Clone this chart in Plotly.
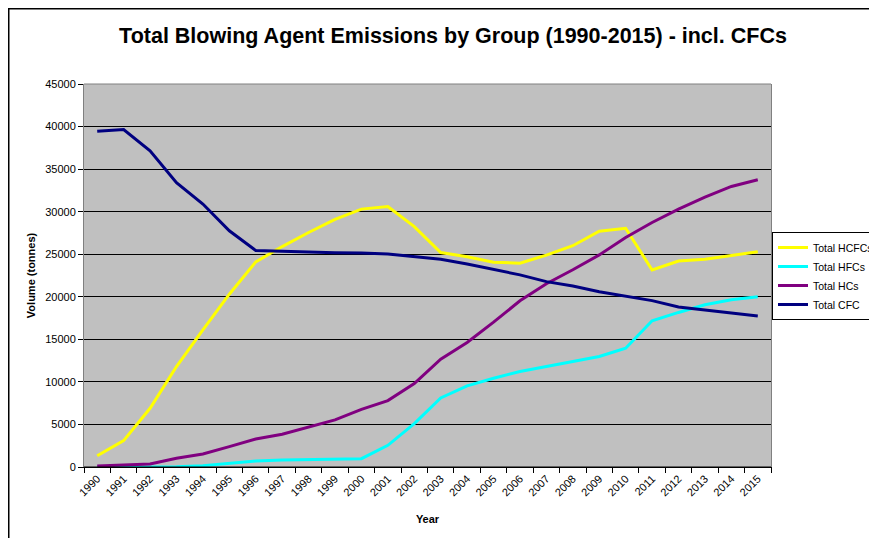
import plotly.graph_objects as go

years = [str(y) for y in range(1990, 2016)]

hcfcs = [1330, 3100, 6900, 11800, 16100, 20300, 24100, 25900, 27550, 29100, 30300, 30600,
         28250, 25200, 24700, 24050, 23950, 24900, 26000, 27700, 28050, 23150, 24200, 24400, 24850, 25300]
hfcs = [0, 0, 0, 40, 160, 470, 700, 820, 900, 940, 980, 2550,
        5100, 8120, 9530, 10430, 11220, 11800, 12430, 12980, 13960, 17180, 18160, 19060, 19650, 20000]
hcs = [120, 200, 350, 1020, 1530, 2390, 3290, 3840, 4670, 5530, 6780, 7800,
       9800, 12670, 14630, 17020, 19530, 21530, 23180, 24920, 26960, 28730, 30300, 31710, 32960, 33750]
cfc = [39450, 39650, 37150, 33400, 30900, 27750, 25430, 25300, 25250, 25180, 25150, 25030,
       24730, 24410, 23860, 23240, 22570, 21780, 21270, 20600, 20100, 19550, 18800, 18450, 18060, 17750]

series = [
    ("Total HCFCs", hcfcs, "#FFFF00"),
    ("Total HFCs", hfcs, "#00FFFF"),
    ("Total HCs", hcs, "#800080"),
    ("Total CFC", cfc, "#000080"),
]

y_ticks = list(range(0, 45001, 5000))

FONT = "Liberation Sans, Arial, sans-serif"

# figure is drawn inside the page's default 8px body margin
W, H = 869, 530
L, T, R, B = 76, 76, 106, 71
PW, PH = W - L - R, H - T - B


def px(x):
    return (x - L) / PW


def py(y):
    return (H - B - y) / PH


fig = go.Figure()
for name, vals, col in series:
    fig.add_trace(go.Scatter(x=years, y=vals, mode="lines", name=name,
                             line=dict(color=col, width=3)))

fig.update_layout(
    width=W, height=H,
    margin=dict(l=L, r=R, t=T, b=B, autoexpand=False),
    paper_bgcolor="white",
    plot_bgcolor="#C0C0C0",
    font=dict(family=FONT, size=11, color="black"),
    title=dict(text="<b>Total Blowing Agent Emissions by Group (1990-2015) - incl. CFCs</b>",
               x=445 / W, xref="container", xanchor="center",
               y=1 - 27 / H, yref="container", yanchor="middle",
               font=dict(family=FONT, size=21.5, color="black")),
    showlegend=True,
    legend=dict(x=px(764), y=py(224), xanchor="left", yanchor="top",
                bgcolor="white", bordercolor="black", borderwidth=1,
                font=dict(family=FONT, size=10.5, color="black"),
                tracegroupgap=0),
    xaxis=dict(type="category", range=[-0.5, 25.5], tickson="boundaries",
               ticks="outside", ticklen=5, tickcolor="black", tickangle=-45,
               showline=True, linecolor="black", linewidth=1, showgrid=False,
               tickfont=dict(family=FONT, size=11, color="black"),
               title=dict(text="<b>Year</b>", font=dict(family=FONT, size=11), standoff=17)),
    yaxis=dict(range=[0, 45000], tickvals=y_ticks, tickformat="d", ticks="outside", ticklen=5,
               tickcolor="black", showline=True, linecolor="#808080", linewidth=1,
               mirror=True, showgrid=True, gridcolor="black", gridwidth=1,
               zeroline=False, tickfont=dict(family=FONT, size=11, color="black"),
               title=dict(text="<b>Volume (tonnes)</b>", font=dict(family=FONT, size=11), standoff=7)),
    shapes=[
        dict(type="line", xref="paper", yref="paper", x0=px(0.75), x1=px(0.75),
             y0=py(0), y1=py(H), line=dict(color="black", width=1.5)),
        dict(type="line", xref="paper", yref="paper", x0=px(0), x1=px(W),
             y0=py(0.75), y1=py(0.75), line=dict(color="black", width=1.5)),
        dict(type="line", xref="paper", yref="paper", x0=0, x1=1, y0=1, y1=1,
             line=dict(color="#808080", width=1)),
        dict(type="line", xref="paper", yref="paper", x0=0, x1=1, y0=0, y1=0,
             line=dict(color="black", width=1)),
    ],
)

fig.write_html("out.html")
